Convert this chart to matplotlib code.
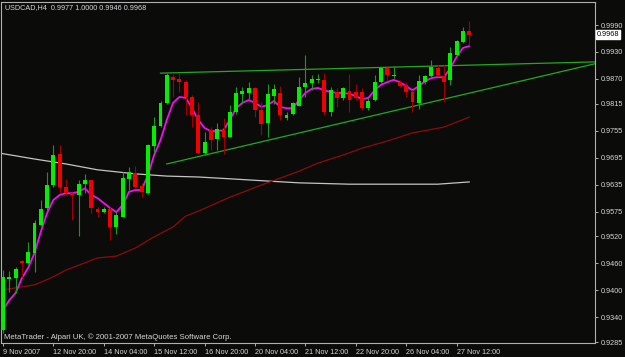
import matplotlib
matplotlib.use("Agg")
import matplotlib.pyplot as plt

plt.rcParams['font.family'] = ['Liberation Sans', 'DejaVu Sans']

title_text = "USDCAD,H4  0.9977 1.0000 0.9946 0.9968"
copyright_text = "MetaTrader - Alpari UK, \u00a9 2001-2007 MetaQuotes Software Corp."

opens = [0.9312, 0.9425, 0.9427, 0.9465, 0.9461, 0.9483, 0.9545, 0.9583, 0.9634, 0.9703,
         0.9630, 0.9616, 0.9612, 0.9636, 0.9645, 0.9581, 0.9574, 0.9581, 0.9541, 0.9563,
         0.9648, 0.9661, 0.9632, 0.9616, 0.9721, 0.9765, 0.9817, 0.9874, 0.9870, 0.9863,
         0.9830, 0.9790, 0.9705, 0.9756, 0.9736, 0.9756, 0.9741, 0.9797, 0.9837, 0.9839,
         0.9850, 0.9801, 0.9772, 0.9832, 0.9839, 0.9783, 0.9792, 0.9810, 0.9852, 0.9861,
         0.9868, 0.9868, 0.9797, 0.9841, 0.9828, 0.9843, 0.9841, 0.9841, 0.9805, 0.9823,
         0.9863, 0.9894, 0.9877, 0.9863, 0.9857, 0.9841, 0.9817, 0.9863, 0.9877, 0.9894,
         0.9877, 0.9868, 0.9923, 0.9952, 0.9977]
highs = [0.9445, 0.9443, 0.9452, 0.9467, 0.9507, 0.9556, 0.9601, 0.9663, 0.9723, 0.9723,
         0.9648, 0.9619, 0.9645, 0.9659, 0.9648, 0.9585, 0.9585, 0.9585, 0.9574, 0.9663,
         0.9674, 0.9676, 0.9639, 0.9725, 0.9785, 0.9821, 0.9883, 0.9881, 0.9883, 0.9868,
         0.9834, 0.9819, 0.9752, 0.9763, 0.9772, 0.9783, 0.9812, 0.9852, 0.9852, 0.9863,
         0.9852, 0.9819, 0.9859, 0.9859, 0.9854, 0.9797, 0.9819, 0.9874, 0.9923, 0.9879,
         0.9881, 0.9883, 0.9852, 0.9850, 0.9852, 0.9881, 0.9859, 0.9850, 0.9828, 0.9879,
         0.9897, 0.9897, 0.9899, 0.9868, 0.9863, 0.9845, 0.9879, 0.9879, 0.9912, 0.9901,
         0.9901, 0.9941, 0.9957, 0.9986, 1.0000]
lows = [0.9305, 0.9396, 0.9394, 0.9430, 0.9458, 0.9441, 0.9543, 0.9579, 0.9630, 0.9616,
        0.9612, 0.9556, 0.9521, 0.9616, 0.9572, 0.9563, 0.9572, 0.9512, 0.9525, 0.9563,
        0.9623, 0.9627, 0.9607, 0.9614, 0.9708, 0.9763, 0.9814, 0.9830, 0.9841, 0.9790,
        0.9763, 0.9705, 0.9701, 0.9712, 0.9712, 0.9703, 0.9741, 0.9792, 0.9814, 0.9825,
        0.9785, 0.9745, 0.9741, 0.9814, 0.9779, 0.9779, 0.9790, 0.9810, 0.9830, 0.9845,
        0.9861, 0.9790, 0.9788, 0.9808, 0.9823, 0.9797, 0.9823, 0.9801, 0.9801, 0.9821,
        0.9861, 0.9868, 0.9872, 0.9852, 0.9830, 0.9797, 0.9803, 0.9859, 0.9874, 0.9877,
        0.9819, 0.9857, 0.9921, 0.9950, 0.9946]
closes = [0.9430, 0.9430, 0.9447, 0.9461, 0.9485, 0.9550, 0.9581, 0.9634, 0.9701, 0.9630,
          0.9616, 0.9612, 0.9636, 0.9645, 0.9583, 0.9574, 0.9581, 0.9541, 0.9567, 0.9650,
          0.9663, 0.9630, 0.9619, 0.9723, 0.9765, 0.9817, 0.9879, 0.9868, 0.9863, 0.9830,
          0.9790, 0.9705, 0.9730, 0.9734, 0.9759, 0.9741, 0.9797, 0.9839, 0.9843, 0.9850,
          0.9801, 0.9770, 0.9837, 0.9848, 0.9790, 0.9790, 0.9817, 0.9852, 0.9861, 0.9870,
          0.9870, 0.9797, 0.9845, 0.9828, 0.9850, 0.9823, 0.9828, 0.9805, 0.9821, 0.9863,
          0.9894, 0.9879, 0.9879, 0.9854, 0.9841, 0.9819, 0.9865, 0.9877, 0.9897, 0.9879,
          0.9863, 0.9928, 0.9954, 0.9977, 0.9968]

# fast moving average (magenta)
fast_ma_idx = list(range(75))
fast_ma = [0.9356, 0.9378, 0.9394, 0.9427, 0.9450, 0.9483, 0.9530, 0.9572, 0.9601, 0.9612,
           0.9616, 0.9616, 0.9619, 0.9627, 0.9612, 0.9605, 0.9594, 0.9583, 0.9574, 0.9590,
           0.9619, 0.9623, 0.9623, 0.9656, 0.9701, 0.9734, 0.9779, 0.9817, 0.9830, 0.9828,
           0.9805, 0.9779, 0.9761, 0.9754, 0.9754, 0.9756, 0.9779, 0.9805, 0.9817, 0.9823,
           0.9817, 0.9808, 0.9812, 0.9821, 0.9808, 0.9805, 0.9805, 0.9823, 0.9839, 0.9848,
           0.9850, 0.9845, 0.9841, 0.9839, 0.9839, 0.9837, 0.9832, 0.9825, 0.9828, 0.9845,
           0.9857, 0.9863, 0.9868, 0.9863, 0.9854, 0.9845, 0.9854, 0.9865, 0.9872, 0.9874,
           0.9874, 0.9894, 0.9919, 0.9939, 0.9943]

# slow moving average (dark red)
mid_ma_idx = [0, 5, 8, 10, 13, 15, 18, 21, 24, 27, 29, 31, 36, 41, 47, 50, 54, 57, 61, 65, 70, 74]
mid_ma = [0.9401, 0.9412, 0.9430, 0.9445, 0.9461, 0.9472, 0.9476, 0.9494, 0.9519, 0.9541,
          0.9565, 0.9576, 0.9607, 0.9634, 0.9665, 0.9683, 0.9701, 0.9716,
          0.9732, 0.9750, 0.9763, 0.9785]

# long moving average (grey)
long_ma_idx = [-0.5, 5, 10, 15, 21, 26, 31, 36, 42, 47, 55, 63, 69, 74]
long_ma = [0.9705, 0.9692, 0.9681, 0.9668, 0.9659, 0.9654, 0.9652, 0.9648, 0.9643, 0.9639,
           0.9636, 0.9636, 0.9636, 0.9641]

# trend lines: (start index, start price, end index, end price)
trend_top = (25, 0.9883, 94, 0.9908)
trend_bottom = (26, 0.9681, 94, 0.9904)

price_ticks = [0.9990, 0.9930, 0.9870, 0.9815, 0.9755, 0.9695, 0.9635, 0.9575,
               0.9520, 0.9460, 0.9400, 0.9340, 0.9285]
time_tick_idx = [0, 8, 16, 24, 32, 40, 48, 56, 64, 72]
time_tick_labels = ["9 Nov 2007", "12 Nov 20:00", "14 Nov 04:00", "15 Nov 12:00",
                    "16 Nov 20:00", "20 Nov 04:00", "21 Nov 12:00", "22 Nov 20:00",
                    "26 Nov 04:00", "27 Nov 12:00"]
last_price = 0.9968

bg = '#0b0c0a'
fg = '#d8d8d8'
frame = '#b0b0b0'
bull = '#00f000'
bear = '#f00000'
bull_wick = '#1e961e'
bear_wick = '#a00000'

W, H = 625, 357
fig = plt.figure(figsize=(W / 100, H / 100), dpi=100)
fig.patch.set_facecolor(bg)
ax = fig.add_axes([1.5 / W, (H - 343) / H, (595 - 1.5) / W, 341 / H])
ax.set_facecolor(bg)
ax.set_xlim(-0.24, 93.97)
ax.set_ylim(0.92828, 1.00412)

# moving averages
ax.plot(long_ma_idx, long_ma, color='#c4c4c4', lw=0.9, zorder=2)
ax.plot(mid_ma_idx, mid_ma, color='#8e0a0a', lw=0.9, zorder=2)
ax.plot(fast_ma_idx, fast_ma, color='#f010f0', lw=1.3, zorder=2)

# trend lines
for t in (trend_top, trend_bottom):
    ax.plot([t[0], t[2]], [t[1], t[3]], color='#22a822', lw=0.9, zorder=2)

# candles
for i, (o, h, l, c) in enumerate(zip(opens, highs, lows, closes)):
    up = c >= o
    ax.vlines(i, l, h, color=bull_wick if up else bear_wick, lw=0.8, zorder=3)
    bottom = min(o, c)
    height = max(abs(c - o), 0.00025)
    ax.bar(i, height, bottom=bottom, width=0.62, color=bull if up else bear,
           linewidth=0, zorder=4)

for s in ax.spines.values():
    s.set_color(frame)
    s.set_linewidth(0.8)

ax.yaxis.tick_right()
ax.set_yticks(price_ticks)
ax.set_yticklabels([f"{p:.4f}" for p in price_ticks])
ax.tick_params(axis='y', colors=frame, labelcolor=fg, length=2.5, width=0.7,
               pad=1.5, labelsize=5.2)
ax.set_xticks(time_tick_idx)
ax.set_xticklabels(time_tick_labels, ha='left')
ax.tick_params(axis='x', colors=frame, labelcolor=fg, length=2.5, width=0.7,
               pad=1.5, labelsize=5.2)
for lab in ax.get_xticklabels():
    lab.set_horizontalalignment('left')

# current price box
ax.text(1.003, last_price, f"{last_price:.4f}", transform=ax.get_yaxis_transform(),
        ha='left', va='center', fontsize=5.2, color='black',
        bbox=dict(boxstyle='square,pad=0.15', facecolor='white', edgecolor='white'))

fig.text(5 / W, 1 - 7.5 / H, title_text, ha='left', va='center', fontsize=5.2, color=fg)
fig.text(4 / W, 1 - 337 / H, copyright_text, ha='left', va='center', fontsize=5.6, color=fg)

fig.savefig('out.png', dpi=100, facecolor=bg)
